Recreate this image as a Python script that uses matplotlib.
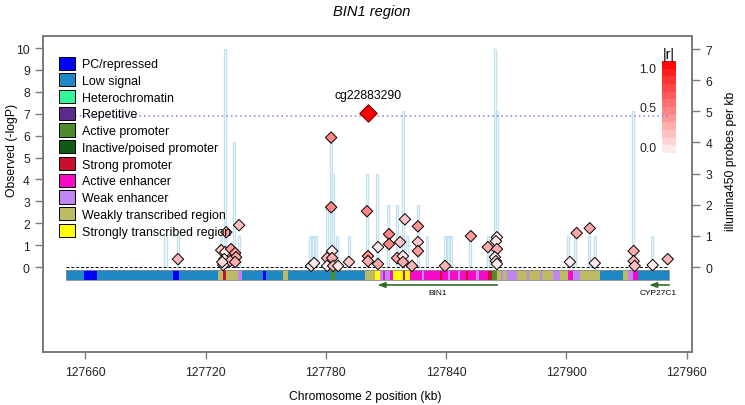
import numpy as np
import matplotlib
matplotlib.use('Agg')
import matplotlib.pyplot as plt
from matplotlib.colors import LinearSegmentedColormap
from matplotlib.patches import Patch

plt.rcParams['font.family'] = ['Liberation Sans', 'DejaVu Sans']
plt.rcParams['font.size'] = 8.7

# chromatin state legend
state_names = ['PC/repressed', 'Low signal', 'Heterochromatin', 'Repetitive', 'Active promoter',
               'Inactive/poised promoter', 'Strong promoter', 'Active enhancer', 'Weak enhancer',
               'Weakly transcribed region', 'Strongly transcribed region']
state_colors = ['#0000FF', '#1E88C4', '#33F59A', '#5B2A8C', '#4F8A2C',
                '#0F5A14', '#C8102E', '#F70AC8', '#BE85F5', '#BDBB62', '#FFFF00']
sc = dict(zip(state_names, state_colors))

# chromatin segments (start kb, state); last one ends at seg_end
seg_start = [127650.4, 127659.4, 127665.8, 127703.7, 127706.7, 127726.2, 127728.7, 127730.2,
             127736.2, 127738.2, 127748.6, 127750.1, 127758.6, 127761.1, 127782.5, 127784.5,
             127799.5, 127804.5, 127807.0, 127808.5, 127809.5, 127812.0, 127813.5, 127818.5,
             127819.5, 127822.0, 127828.0, 127829.0, 127837.0, 127838.0, 127841.0, 127842.0,
             127846.0, 127847.0, 127850.0, 127851.0, 127855.0, 127856.5, 127860.8, 127862.8,
             127865.3, 127867.3, 127868.5, 127870.3, 127875.3, 127880.3, 127881.5, 127886.8,
             127888.0, 127893.3, 127896.8, 127900.8, 127903.2, 127906.7, 127916.7, 127928.2,
             127930.7, 127933.2, 127935.7]
seg_state = ['Low signal', 'PC/repressed', 'Low signal', 'PC/repressed', 'Low signal',
             'Weakly transcribed region', 'Strong promoter', 'Weakly transcribed region',
             'Weak enhancer', 'Low signal', 'PC/repressed', 'Low signal',
             'Weakly transcribed region', 'Low signal', 'Active promoter', 'Low signal',
             'Weakly transcribed region', 'Strongly transcribed region', 'Weak enhancer',
             'Active enhancer', 'Weak enhancer', 'Active enhancer', 'Strongly transcribed region',
             'Strong promoter', 'Strongly transcribed region', 'Active enhancer', 'Weak enhancer',
             'Active enhancer', 'Strong promoter', 'Active enhancer', 'Weak enhancer',
             'Active enhancer', 'Weak enhancer', 'Active enhancer', 'Strong promoter',
             'Active enhancer', 'Weak enhancer', 'Active enhancer', 'Strong promoter',
             'Active promoter', 'Weakly transcribed region', 'Weak enhancer',
             'Weakly transcribed region', 'Weak enhancer', 'Weakly transcribed region',
             'Weak enhancer', 'Weakly transcribed region', 'Weak enhancer',
             'Weakly transcribed region', 'Weak enhancer', 'Weakly transcribed region',
             'Active enhancer', 'Weak enhancer', 'Weakly transcribed region', 'Low signal',
             'Weakly transcribed region', 'Weak enhancer', 'Active enhancer', 'Low signal']
seg_end = 127951.2

# probe density (probes per kb)
probe_start = [127699.5, 127705.5, 127727.0, 127729.3, 127733.8, 127736.3, 127771.7, 127773.2,
               127774.7, 127780.2, 127782.2, 127783.2, 127785.2, 127791.2, 127800.1, 127805.1,
               127810.6, 127815.1, 127818.1, 127820.1, 127825.6, 127830.1, 127839.1, 127840.6,
               127842.1, 127851.5, 127860.5, 127862.5, 127864.0, 127865.0, 127900.4, 127903.9,
               127910.9, 127913.9, 127932.8, 127942.3]
probe_count = [1, 1, 1, 7, 4, 1, 1, 1, 1, 2, 4, 3, 1, 1, 3, 3, 2, 2, 5, 1, 2, 1, 1, 1,
               1, 1, 1, 1, 7, 5, 1, 1, 1, 1, 5, 1]

# CpG association results
cpg_pos = [127706.2, 127730.3, 127736.7, 127727.8, 127729.8, 127732.7, 127734.7, 127735.2,
           127729.3, 127732.2, 127728.8, 127734.7, 127728.3,
           127772.6, 127774.1, 127780.6, 127783.1, 127783.1, 127780.6, 127783.6, 127786.1,
           127791.5, 127782.6, 127782.6, 127800.5, 127801.0, 127801.0, 127806.0, 127806.0,
           127811.5, 127811.5, 127817.0, 127819.4, 127825.9, 127825.9, 127825.9, 127815.5,
           127818.4, 127818.4, 127822.9, 127839.4, 127852.3, 127860.8, 127865.3, 127864.8,
           127865.3, 127864.3, 127864.8, 127865.3, 127901.7, 127905.1, 127911.6, 127914.1,
           127933.5, 127933.5, 127934.0, 127943.0, 127950.5]
cpg_logp = [0.36, 1.59, 1.91, 0.77, 0.68, 0.82, 0.64, 0.45, 0.36, 0.27, 0.09, 0.23, 0.23,
            0.05, 0.18, 0.41, 0.73, 0.41, 0.05, 0.05, 0.05, 0.23, 5.91, 2.73, 2.55, 0.5, 0.27,
            0.91, 0.14, 1.5, 1.05, 1.14, 2.18, 1.86, 1.14, 0.73, 0.41, 0.5, 0.23, 0.05, 0.05,
            1.41, 0.91, 1.36, 1.18, 0.82, 0.45, 0.27, 0.14, 0.23, 1.55, 1.77, 0.18, 0.73, 0.27,
            0.05, 0.09, 0.36]
cpg_r = [0.25, 0.33, 0.22, 0.18, 0.03, 0.37, 0.37, 0.3, 0.03, 0.22, 0.03, 0.3, 0.1,
         0.06, 0.03, 0.26, 0.03, 0.3, 0.03, 0.26, 0.03, 0.18, 0.45, 0.45, 0.45, 0.41, 0.3,
         0.03, 0.3, 0.45, 0.45, 0.18, 0.18, 0.41, 0.18, 0.37, 0.33, 0.03, 0.3, 0.26, 0.26,
         0.37, 0.3, 0.03, 0.06, 0.3, 0.03, 0.15, 0.03, 0.03, 0.33, 0.33, 0.03, 0.3, 0.26,
         0.22, 0.03, 0.26]
top_name = 'cg22883290'
top_pos = 127801.0
top_logp = 7.03
sig_line = 6.9

genes = ['BIN1', 'CYP27C1']
gene_from = [127865.5, 127951.2]
gene_to = [127805.7, 127941.2]

xticks = [127660, 127720, 127780, 127840, 127900, 127960]

cmap = LinearSegmentedColormap.from_list('rr', ['#FFF4F4', '#FF0000'])
grey = '#7A7A7A'

fig = plt.figure(figsize=(7.45, 4.06), dpi=100)
ax1 = fig.add_axes([43/745, 1-353/406, 649/745, 316/406])
ax2 = ax1.twinx()
ax1.set_zorder(2)
ax1.patch.set_visible(False)

# probes per kb
ax2.bar(probe_start, probe_count, width=1.0, align='edge', facecolor='#F5FAFD',
        edgecolor='#C2E0EF', linewidth=0.9)
ax2.set_ylim(-2.73, 7.42)
ax2.set_yticks(range(0, 8))

# chromatin state bar
widths = np.diff(seg_start + [seg_end])
ax1.bar(seg_start, 0.46, width=widths, bottom=-0.58, align='edge',
        color=[sc[s] for s in seg_state], linewidth=0)
ax1.bar([seg_start[0]], 0.46, width=seg_end - seg_start[0], bottom=-0.58, align='edge',
        fill=False, edgecolor='#8A8A8A', linewidth=0.6)
ax1.plot([seg_start[0], seg_end], [0, 0], color='black', linestyle=(0, (3, 2)), linewidth=0.7)
ax1.plot([seg_start[0], seg_end], [sig_line, sig_line], color='#8080E8', linestyle=(0, (1, 2)),
         linewidth=1.1)

# points
ax1.scatter(cpg_pos, cpg_logp, c=cmap(np.array(cpg_r)), marker='D', s=34,
            edgecolors='black', linewidths=0.7, zorder=5)
ax1.scatter([top_pos], [top_logp], c=[cmap(1.0)], marker='D', s=80, edgecolors='#600000',
            linewidths=0.7, zorder=6)
ax1.text(top_pos, top_logp + 0.55, top_name, ha='center', va='bottom', fontsize=8.7)

# genes
for g, a, b in zip(genes, gene_from, gene_to):
    ax1.annotate('', xy=(b, -0.82), xytext=(a, -0.82),
                 arrowprops=dict(arrowstyle='-|>,head_length=0.5,head_width=0.18',
                                 color='#2F6E25', lw=1.2, shrinkA=0, shrinkB=0))
    ax1.text((a + b) / 2 if g == 'BIN1' else b + 4.5, -1.02, g, ha='center', va='top', fontsize=6)

ax1.set_xlim(127638.9, 127962.6)
ax1.set_ylim(-3.88, 10.55)
ax1.set_yticks(range(0, 11))
ax1.set_xticks(xticks)

for ax in (ax1, ax2):
    for sp in ax.spines.values():
        sp.set_color(grey)
        sp.set_linewidth(1.2)
    ax.tick_params(colors=grey, labelcolor='#222222', length=6, width=1, labelsize=8.7)
ax1.tick_params(axis='x', length=5, pad=5)

# legend
handles = [Patch(facecolor=c, edgecolor='black', linewidth=0.7) for c in state_colors]
ax1.legend(handles, state_names, loc='upper left', bbox_to_anchor=(16/649, 1-20.5/316),
           frameon=False, fontsize=8.9, handlelength=1.27, handleheight=1.27,
           labelspacing=0.24, handletextpad=0.6, borderpad=0, borderaxespad=0)

# |r| colour key
cax = fig.add_axes([662/745, 1-154/406, 14/745, 92/406])
edges = np.linspace(-0.0886, 1.076, 13)
mids = (edges[:-1] + edges[1:]) / 2
cax.pcolormesh([0, 1], edges, mids.reshape(-1, 1), cmap=cmap, vmin=-0.0886, vmax=1.076)
cax.set_ylim(edges[0], edges[-1])
cax.set_xticks([])
cax.set_yticks([0, 0.5, 1.0])
cax.set_yticklabels(['0.0', '0.5', '1.0'])
cax.tick_params(length=0, pad=4, labelsize=8.7, labelcolor='#222222')
for sp in cax.spines.values():
    sp.set_visible(False)
cax.set_title('|r|', fontsize=10, pad=1)

fig.text(372/745, 1-12/406, 'BIN1 region', ha='center', va='center', fontsize=10.5, style='italic')
fig.text(12/745, 1-150/406, 'Observed (-logP)', rotation=90, ha='center', va='center')
fig.text(731/745, 1-161/406, 'illumina450 probes per kb', rotation=90, ha='center', va='center')
fig.text(365/745, 1-397/406, 'Chromosome 2 position (kb)', ha='center', va='center')

fig.savefig('out.png', dpi=100)
